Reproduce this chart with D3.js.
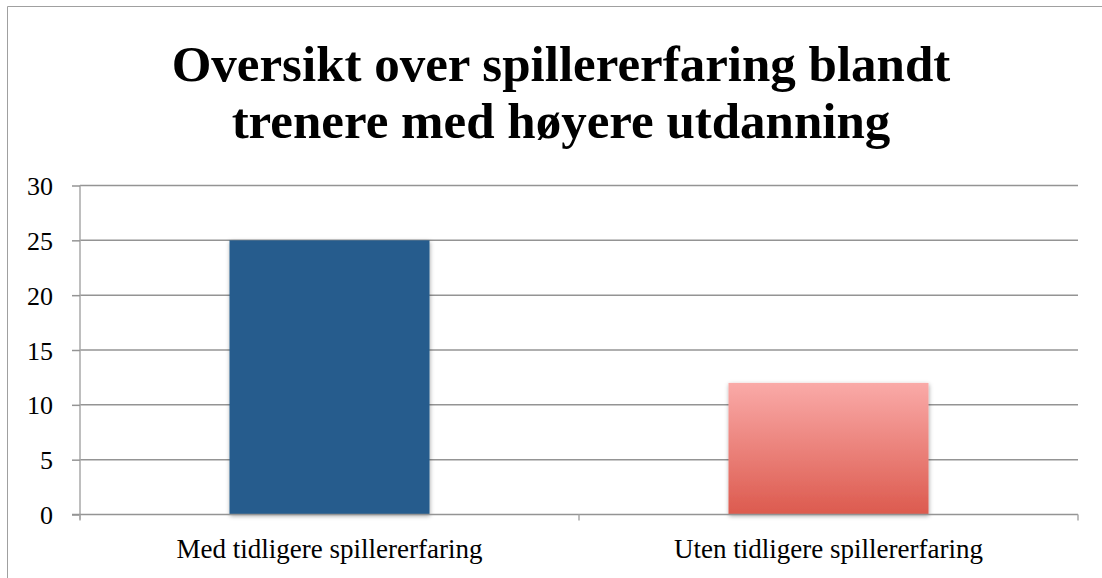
<!DOCTYPE html>
<html>
<head>
<meta charset="utf-8">
<script src="https://cdn.jsdelivr.net/npm/d3@7"></script>
<style>
html,body{margin:0;padding:0;background:#fff;}
svg{display:block;}
</style>
</head>
<body>
<script>
const categories = ["Med tidligere spillererfaring", "Uten tidligere spillererfaring"];
const values = [25, 12];
const yTicks = [0, 5, 10, 15, 20, 25, 30];
const titleLines = ["Oversikt over spillererfaring blandt", "trenere med høyere utdanning"];

const W = 1102, H = 578;
const margin = {left: 80, right: 24, top: 185.5, bottom: 63.5};
const svg = d3.select("body").append("svg").attr("width", W).attr("height", H);

const defs = svg.append("defs");
const grad = defs.append("linearGradient").attr("id", "redGrad").attr("x1", 0).attr("y1", 0).attr("x2", 0).attr("y2", 1);
grad.append("stop").attr("offset", "0%").attr("stop-color", "#faaaa8");
grad.append("stop").attr("offset", "100%").attr("stop-color", "#dc5a4e");
const f = defs.append("filter").attr("id", "shadow").attr("x", "-10%").attr("y", "-10%").attr("width", "120%").attr("height", "120%");
f.append("feDropShadow").attr("dx", 0.5).attr("dy", 1.5).attr("stdDeviation", 2).attr("flood-color", "#000").attr("flood-opacity", 0.35);

// outer border
svg.append("path").attr("d", `M7.5,${H+5} L7.5,6.5 L${W+5},6.5`).attr("fill", "none").attr("stroke", "#a0a0a0").attr("stroke-width", 1);

// title
svg.append("g").selectAll("text").data(titleLines).join("text")
  .attr("x", 561).attr("y", (d, i) => 81 + i * 57)
  .attr("text-anchor", "middle")
  .style("font-family", "'Liberation Serif', serif").style("font-weight", "bold").style("font-size", "51px")
  .attr("fill", "#000").text(d => d);

const x = d3.scaleBand().domain(categories).range([margin.left, W - margin.right]).paddingInner(0).paddingOuter(0);
const y = d3.scaleLinear().domain([0, 30]).range([H - margin.bottom, margin.top]);

// gridlines
svg.append("g").selectAll("line").data(yTicks.filter(t => t > 0)).join("line")
  .attr("x1", margin.left).attr("x2", W - margin.right)
  .attr("y1", d => y(d)).attr("y2", d => y(d))
  .attr("stroke", "#949494").attr("stroke-width", 1.5);

// y axis
const yAxis = svg.append("g").attr("transform", `translate(${margin.left},0)`)
  .call(d3.axisLeft(y).tickValues(yTicks).tickSize(8).tickPadding(19).tickFormat(d3.format("d")));
yAxis.select(".domain").attr("stroke", "#a8a8a8").attr("stroke-width", 1.5).attr("d", `M0,${y(30)}V${y(0) + 5}`);
yAxis.selectAll(".tick line").attr("stroke", "#949494").attr("stroke-width", 1.5);
yAxis.selectAll("text").style("font-family", "'Liberation Serif', serif").style("font-size", "26px").attr("fill", "#000").attr("dy", "0.35em");

// bars
const barW = 200;
svg.append("g").selectAll("rect").data(values).join("rect")
  .attr("x", (d, i) => x(categories[i]) + x.bandwidth() / 2 - barW / 2)
  .attr("width", barW)
  .attr("y", d => y(d)).attr("height", d => y(0) - y(d))
  .attr("fill", (d, i) => i === 0 ? "#265c8d" : "url(#redGrad)")
  .attr("filter", "url(#shadow)");

// x axis
const xAxisG = svg.append("g").attr("transform", `translate(0,${y(0)})`);
xAxisG.append("line").attr("x1", margin.left - 8).attr("x2", W - margin.right).attr("y1", 0).attr("y2", 0)
  .attr("stroke", "#949494").attr("stroke-width", 1.5);
const xTickPos = [margin.left, ...categories.map(c => x(c) + x.bandwidth())];
xAxisG.selectAll("line.t").data(xTickPos).join("line").attr("class", "t")
  .attr("x1", d => d).attr("x2", d => d).attr("y1", 0).attr("y2", 6)
  .attr("stroke", "#a8a8a8").attr("stroke-width", 1.5);
xAxisG.selectAll("text").data(categories).join("text")
  .attr("x", d => x(d) + x.bandwidth() / 2).attr("y", 43)
  .attr("text-anchor", "middle")
  .style("font-family", "'Liberation Serif', serif").style("font-size", "27px").attr("fill", "#000")
  .text(d => d);
</script>
</body>
</html>
